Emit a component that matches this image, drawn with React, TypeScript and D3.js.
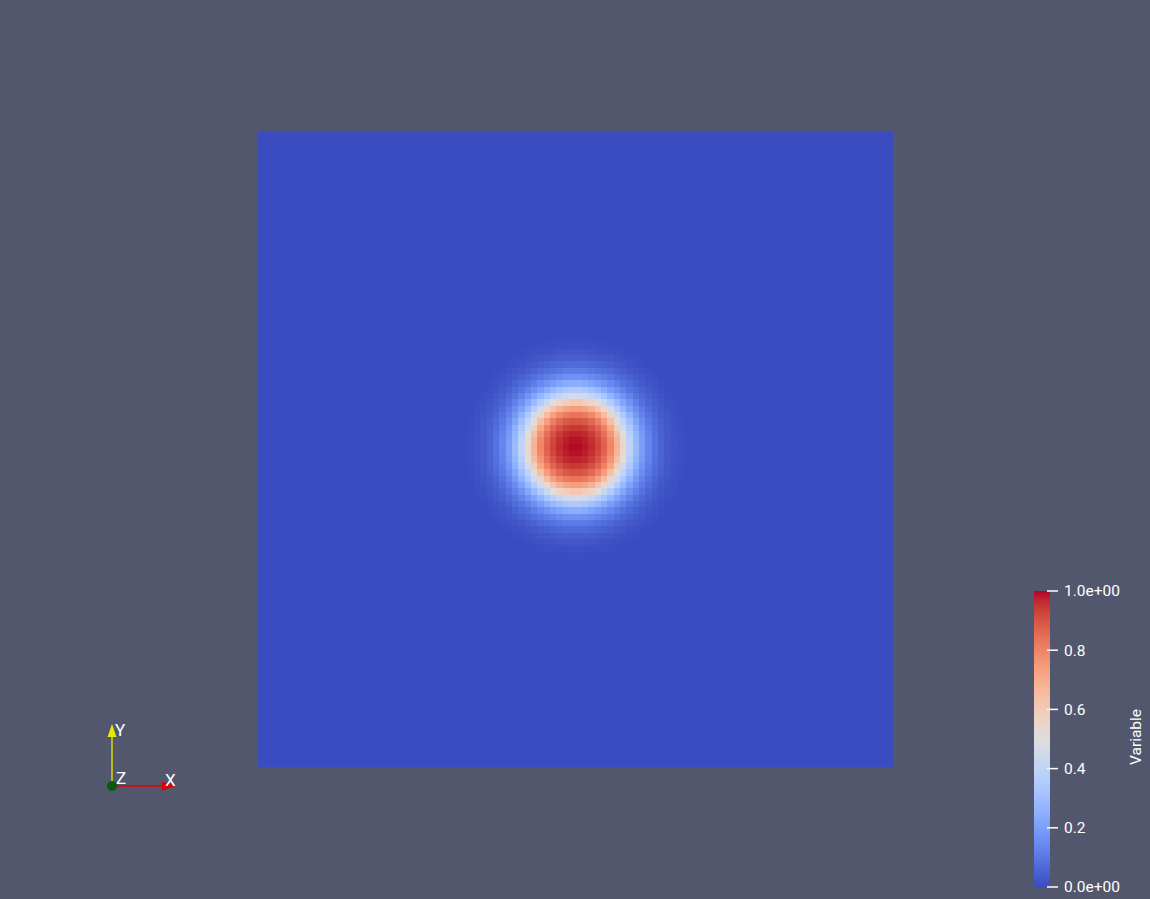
import React from "react";
import * as d3 from "d3";

// ---- data ----
const gridCells = 100; // cells per side (unit square domain [0,1])
const blobCenterX = 0.5;
const blobCenterY = 0.505;
// radial profile: distance (in cells) -> value
const profileDistance = [0, 0.5, 1.5, 2.5, 3.5, 4.5, 5.5, 6.5, 7.5, 8.5, 9.5, 10.5, 11.5, 12.5, 13.5, 14.5, 15.5, 16.5, 17.5];
const profileValue = [1.0, 0.997, 0.985, 0.965, 0.93, 0.875, 0.8, 0.69, 0.54, 0.4, 0.29, 0.2, 0.135, 0.088, 0.055, 0.032, 0.017, 0.007, 0];
const colorbarTicks = [0, 0.2, 0.4, 0.6, 0.8, 1.0];
const colorbarTickLabels = ["0.0e+00", "0.2", "0.4", "0.6", "0.8", "1.0e+00"];
const variableName = "Variable";
// ParaView "Cool to Warm" control points
const cmapPos = [0, 0.03125, 0.0625, 0.09375, 0.125, 0.15625, 0.1875, 0.21875, 0.25, 0.28125, 0.3125, 0.34375, 0.375, 0.40625, 0.4375, 0.46875, 0.5, 0.53125, 0.5625, 0.59375, 0.625, 0.65625, 0.6875, 0.71875, 0.75, 0.78125, 0.8125, 0.84375, 0.875, 0.90625, 0.9375, 0.96875, 1.0];
const cmapRGB = [
  "rgb(59,76,192)", "rgb(68,90,204)", "rgb(77,104,215)", "rgb(87,117,225)", "rgb(98,130,234)", "rgb(108,142,241)",
  "rgb(119,154,247)", "rgb(130,165,251)", "rgb(141,176,254)", "rgb(152,185,255)", "rgb(163,194,255)", "rgb(174,201,253)",
  "rgb(184,208,249)", "rgb(194,213,244)", "rgb(204,217,238)", "rgb(213,219,230)", "rgb(221,221,221)", "rgb(229,216,209)",
  "rgb(236,211,197)", "rgb(241,204,185)", "rgb(245,196,173)", "rgb(247,187,160)", "rgb(247,177,148)", "rgb(247,166,135)",
  "rgb(244,154,123)", "rgb(241,141,111)", "rgb(236,127,99)", "rgb(229,112,88)", "rgb(222,96,77)", "rgb(213,80,66)",
  "rgb(203,62,56)", "rgb(192,40,47)", "rgb(180,4,38)",
];

const W = 1150, H = 899;
const BG = "rgb(82,87,110)";
const FONT = "Roboto, 'Liberation Sans', sans-serif";

export default function App() {
  const x = d3.scaleLinear().domain([0, 1]).range([258, 893]);
  const y = d3.scaleLinear().domain([0, 1]).range([767, 132]);
  const color = d3.scaleLinear<string>().domain(cmapPos).range(cmapRGB).interpolate(d3.interpolateRgb).clamp(true);
  const profile = d3.scaleLinear().domain(profileDistance).range(profileValue).clamp(true);
  const cw = 1 / gridCells;

  const cells: { i: number; j: number; v: number }[] = [];
  for (let i = 0; i < gridCells; i++) {
    for (let j = 0; j < gridCells; j++) {
      const cx = (i + 0.5) * cw, cy = (j + 0.5) * cw;
      const d = Math.hypot(cx - blobCenterX, cy - blobCenterY) / cw;
      const v = profile(d);
      if (v > 0) cells.push({ i, j, v });
    }
  }

  const cb = d3.scaleLinear().domain([0, 1]).range([887, 591]);
  const cbX0 = 1034, cbX1 = 1050;

  return (
    <svg width={W} height={H} style={{ position: "absolute", left: 0, top: 0, display: "block" }}>
      <defs>
        <linearGradient id="cbgrad" x1="0" y1="1" x2="0" y2="0">
          {cmapPos.map((p, k) => (
            <stop key={k} offset={p} stopColor={cmapRGB[k]} />
          ))}
        </linearGradient>
      </defs>
      <rect x={0} y={0} width={W} height={H} fill={BG} />
      <rect x={x(0)} y={y(1)} width={x(1) - x(0)} height={y(0) - y(1)} fill={color(0)} />
      <g shapeRendering="crispEdges">
        {cells.map((c) => (
          <rect
            key={c.i + "_" + c.j}
            x={x(c.i * cw)}
            y={y((c.j + 1) * cw)}
            width={x(cw) - x(0) + 0.6}
            height={y(0) - y(cw) + 0.6}
            fill={color(c.v)}
          />
        ))}
      </g>

      {/* color bar */}
      <rect x={cbX0} y={cb(1)} width={cbX1 - cbX0} height={cb(0) - cb(1)} fill="url(#cbgrad)" />
      {colorbarTicks.map((t, k) => (
        <g key={k}>
          <line x1={1047} x2={1058} y1={cb(t)} y2={cb(t)} stroke="#ffffff" strokeWidth={1.5} />
          <text x={1064} y={cb(t)} dy="0.35em" fill="#ffffff" fontFamily={FONT} fontSize={15.5}>
            {colorbarTickLabels[k]}
          </text>
        </g>
      ))}
      <text
        transform={`translate(1141,737) rotate(-90)`}
        textAnchor="middle"
        fill="#ffffff"
        fontFamily={FONT}
        fontSize={15.5}
      >
        {variableName}
      </text>

      {/* orientation triad */}
      <line x1={112} y1={786} x2={112} y2={736} stroke="#d8d800" strokeWidth={1.5} />
      <path d="M112,724 L116.5,737 L107.5,737 Z" fill="#e8e800" />
      <line x1={112} y1={786} x2={163} y2={786} stroke="#dd0000" strokeWidth={1.5} />
      <path d="M176,786 L162,781.5 L162,790.5 Z" fill="#dd0000" />
      <circle cx={112} cy={786} r={5} fill="#0a5a0a" />
      <text x={115} y={736} fill="#ffffff" fontFamily={FONT} fontSize={17}>Y</text>
      <text x={116} y={784} fill="#ffffff" fontFamily={FONT} fontSize={17}>Z</text>
      <text x={165} y={786} fill="#ffffff" fontFamily={FONT} fontSize={17}>X</text>
    </svg>
  );
}
